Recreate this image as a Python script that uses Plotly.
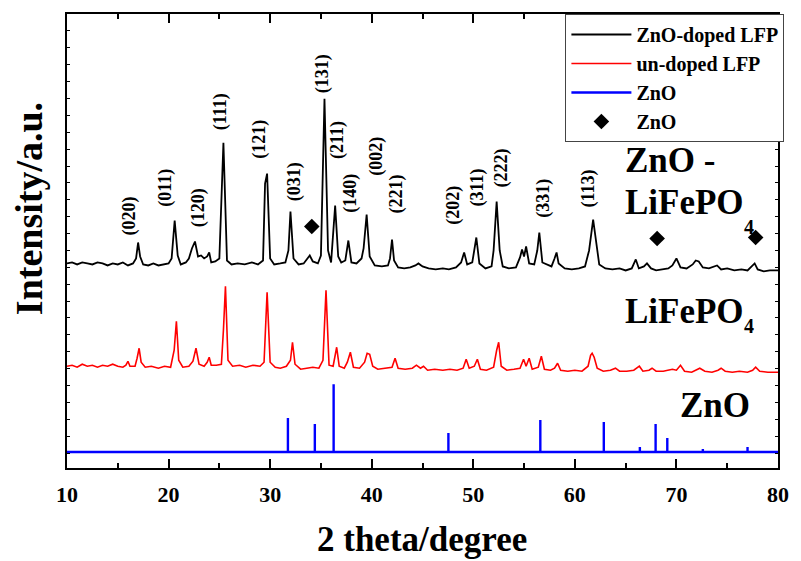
import plotly.graph_objects as go

# ---------------- data (2theta in degrees, intensity in a.u., stacked) ----------------
zno_lfp_2theta = [10.0, 10.5, 11.0, 11.5, 12.0, 12.5, 13.0, 13.5, 14.0, 14.5, 15.0, 15.5, 16.0, 16.5,
                  16.8, 17.0, 17.2, 17.5, 18.0, 18.5, 19.0, 19.5, 20.0, 20.3, 20.6, 20.9, 21.2, 21.7,
                  22.0, 22.3, 22.6, 22.9, 23.2, 23.5, 23.8, 24.0, 24.2, 24.6, 25.0, 25.4, 25.75, 26.2,
                  26.8, 27.5, 28.2, 28.8, 29.3, 29.5, 29.7, 30.0, 30.4, 31.0, 31.5, 31.8, 32.0, 32.3,
                  32.8, 33.3, 33.7, 33.9, 34.2, 34.7, 35.0, 35.35, 35.7, 36.0, 36.4, 36.7, 37.0, 37.4,
                  37.7, 38.0, 38.5, 39.0, 39.2, 39.5, 39.8, 40.3, 41.0, 41.6, 41.8, 42.0, 42.2, 42.6,
                  43.2, 43.8, 44.3, 44.6, 45.0, 45.6, 46.3, 47.0, 47.6, 48.3, 48.8, 49.1, 49.4, 49.9,
                  50.3, 50.6, 51.2, 51.8, 52.0, 52.3, 52.6, 52.9, 53.5, 54.2, 54.6, 54.8, 55.0, 55.2,
                  55.5, 56.0, 56.3, 56.5, 56.8, 57.3, 57.7, 58.0, 58.2, 58.4, 59.0, 59.7, 60.4, 61.0,
                  61.4, 61.8, 62.1, 62.4, 63.0, 63.7, 64.4, 65.0, 65.6, 66.0, 66.3, 66.8, 67.1, 67.5,
                  68.0, 68.6, 69.2, 69.6, 70.0, 70.4, 71.0, 71.6, 71.9, 72.2, 72.6, 73.2, 73.8, 74.0,
                  74.4, 75.0, 75.7, 76.4, 77.0, 77.4, 77.7, 78.0, 78.6, 79.2, 80.0]
zno_lfp_int = [205, 206, 204, 206, 205, 204, 206, 205, 203, 205, 204, 206, 203, 205,
               210, 226, 212, 204, 203, 205, 203, 204, 205, 210, 248, 213, 204, 206,
               210, 220, 227, 212, 213, 210, 212, 216, 206, 207, 210, 326, 208, 204,
               205, 204, 206, 204, 208, 285, 295, 210, 204, 205, 206, 218, 257, 210,
               204, 205, 210, 213, 207, 205, 213, 370, 218, 206, 263, 212, 206, 208,
               228, 206, 205, 210, 220, 254, 212, 203, 202, 203, 210, 229, 208, 201,
               200, 201, 203, 205, 202, 200, 199, 200, 199, 201, 206, 216, 204, 206,
               231, 205, 200, 202, 218, 267, 218, 202, 200, 201, 211, 219, 212, 222,
               205, 204, 218, 236, 206, 204, 202, 210, 216, 205, 200, 199, 200, 202,
               218, 249, 228, 204, 200, 199, 200, 198, 200, 209, 200, 202, 205, 200,
               198, 199, 200, 203, 210, 201, 200, 204, 208, 207, 201, 200, 202, 203,
               199, 200, 198, 199, 198, 202, 205, 199, 197, 198, 198]

lfp_2theta = [10.0, 10.5, 11.0, 11.5, 12.0, 12.5, 13.0, 13.5, 14.0, 14.5, 15.0, 15.5, 15.8, 16.0,
              16.2, 16.7, 16.9, 17.1, 17.3, 17.7, 18.3, 19.0, 19.6, 20.2, 20.55, 20.77, 21.0, 21.4,
              22.0, 22.4, 22.7, 23.0, 23.5, 23.8, 24.0, 24.2, 24.7, 25.2, 25.4, 25.6, 25.85, 26.3,
              27.0, 27.6, 28.3, 29.0, 29.4, 29.7, 30.0, 30.5, 31.0, 31.6, 32.0, 32.2, 32.45, 33.0,
              33.6, 34.2, 34.8, 35.2, 35.5, 35.8, 36.2, 36.55, 36.8, 37.3, 37.6, 37.9, 38.2, 38.8,
              39.3, 39.55, 39.8, 40.1, 40.6, 41.3, 42.0, 42.3, 42.6, 43.3, 44.0, 44.4, 44.8, 45.1,
              45.5, 46.2, 47.0, 47.7, 48.4, 49.0, 49.3, 49.6, 50.1, 50.4, 50.7, 51.3, 52.0, 52.3,
              52.5, 52.75, 53.3, 54.0, 54.6, 54.95, 55.2, 55.5, 55.8, 56.4, 56.7, 57.0, 57.6, 58.0,
              58.3, 58.6, 59.3, 60.0, 60.7, 61.3, 61.55, 61.7, 61.9, 62.2, 62.8, 63.5, 64.0, 64.4,
              65.1, 65.8, 66.35, 66.7, 67.3, 67.6, 68.0, 68.7, 69.2, 69.6, 70.0, 70.4, 70.8, 71.5,
              72.3, 72.8, 73.5, 74.1, 74.4, 74.8, 75.5, 76.2, 77.0, 77.5, 77.8, 78.2, 79.0, 80.0]
lfp_int = [102, 103, 101, 104, 102, 103, 101, 103, 102, 104, 102, 101, 103, 107,
           102, 102, 110, 120, 106, 101, 102, 100, 102, 101, 118, 147, 108, 101,
           102, 107, 120, 104, 102, 106, 111, 103, 103, 104, 138, 182, 108, 102,
           103, 101, 103, 102, 106, 176, 106, 101, 100, 102, 108, 126, 104, 99,
           100, 101, 100, 108, 178, 103, 102, 121, 102, 100, 106, 116, 101, 100,
           106, 115, 114, 102, 99, 100, 101, 110, 100, 99, 100, 103, 100, 102,
           98, 99, 98, 99, 98, 100, 109, 100, 102, 109, 99, 98, 101, 118,
           126, 102, 98, 99, 100, 109, 102, 110, 99, 101, 112, 99, 98, 100,
           105, 98, 97, 98, 97, 102, 113, 115, 111, 100, 97, 98, 100, 97,
           97, 98, 102, 97, 98, 100, 97, 97, 98, 99, 98, 103, 97, 96,
           100, 97, 96, 98, 100, 97, 96, 97, 96, 98, 101, 97, 96, 96]

# ZnO reference (standard card) stick pattern
zno_ref_2theta = [31.75, 34.4, 36.25, 47.55, 56.6, 62.85, 66.4, 67.95, 69.1, 72.6, 77.0]
zno_ref_int = [50, 44, 84, 35, 48, 46, 21, 44, 30, 19, 21]
zno_ref_base = 16
range_2theta = [10, 80]

# ZnO peaks marked in the doped sample
zno_mark_2theta = [34.1, 68.1, 77.8]
zno_mark_int = [242, 230, 231]

# Miller index labels (2theta position, label height)
hkl_labels = ["(020)", "(011)", "(120)", "(111)", "(121)", "(031)", "(131)", "(211)",
              "(140)", "(002)", "(221)", "(202)", "(311)", "(222)", "(331)", "(113)"]
hkl_2theta = [16.2, 19.75, 22.97, 25.11, 29.01, 32.42, 35.15, 36.62,
              37.88, 40.52, 42.47, 48.02, 50.46, 52.8, 56.89, 61.38]
hkl_int = [253, 281, 261, 357, 329, 287, 395, 329,
           275, 312, 275, 263, 281, 301, 270, 280]

x_ticks = [10, 20, 30, 40, 50, 60, 70, 80]

# ---------------- build stick path for ZnO reference ----------------
stick_x = [range_2theta[0]]
stick_y = [zno_ref_base]
for p, h in zip(zno_ref_2theta, zno_ref_int):
    stick_x += [p, p, p]
    stick_y += [zno_ref_base, h, zno_ref_base]
stick_x.append(range_2theta[1])
stick_y.append(zno_ref_base)

FONT = "Liberation Serif"

fig = go.Figure()
fig.add_trace(go.Scatter(x=zno_lfp_2theta, y=zno_lfp_int, mode="lines",
                         line=dict(color="black", width=1.8), name="ZnO-doped LFP",
                         legendgroup="a"))
fig.add_trace(go.Scatter(x=lfp_2theta, y=lfp_int, mode="lines",
                         line=dict(color="#ff0000", width=1.6), name="un-doped LFP",
                         legendgroup="b"))
fig.add_trace(go.Scatter(x=stick_x, y=stick_y, mode="lines",
                         line=dict(color="#0000ff", width=2.4), name="ZnO",
                         legendgroup="c"))
fig.add_trace(go.Scatter(x=zno_mark_2theta, y=zno_mark_int, mode="markers",
                         marker=dict(symbol="diamond", size=12, color="black"), name="ZnO",
                         legendgroup="d"))

annotations = []
for t, x, y in zip(hkl_labels, hkl_2theta, hkl_int):
    annotations.append(dict(x=x, y=y, xref="x", yref="y", text=t, textangle=-90,
                            showarrow=False, xanchor="center", yanchor="middle",
                            font=dict(family=FONT, size=18, color="black", weight="bold")))

big = dict(family=FONT, size=35, color="black", weight="bold")
sub = dict(family=FONT, size=20, color="black", weight="bold")
annotations += [
    dict(x=64.7, y=308, xref="x", yref="y", text="ZnO -", showarrow=False,
         xanchor="left", yanchor="middle", font=big),
    dict(x=64.7, y=266, xref="x", yref="y", text="LiFePO", showarrow=False,
         xanchor="left", yanchor="middle", font=big),
    dict(x=77.1, y=242, xref="x", yref="y", text="4", showarrow=False,
         xanchor="center", yanchor="middle", font=sub),
    dict(x=64.7, y=157, xref="x", yref="y", text="LiFePO", showarrow=False,
         xanchor="left", yanchor="middle", font=big),
    dict(x=77.1, y=142, xref="x", yref="y", text="4", showarrow=False,
         xanchor="center", yanchor="middle", font=sub),
    dict(x=77.4, y=63, xref="x", yref="y", text="ZnO", showarrow=False,
         xanchor="right", yanchor="middle", font=big),
    dict(x=0.4986, y=-0.158, xref="paper", yref="paper", text="2 theta/degree",
         showarrow=False, xanchor="center", yanchor="middle",
         font=dict(family=FONT, size=35, color="black", weight="bold")),
    dict(x=-0.0543, y=0.571, xref="paper", yref="paper", text="Intensity/a.u.",
         showarrow=False, xanchor="center", yanchor="middle", textangle=-90,
         font=dict(family=FONT, size=38, color="black", weight="bold")),
]

fig.update_layout(
    width=801, height=561,
    margin=dict(l=67, r=16, t=13, b=93),
    paper_bgcolor="white", plot_bgcolor="white",
    showlegend=True,
    legend=dict(x=1.009, y=1.0, xanchor="right", yanchor="top",
                bgcolor="white", bordercolor="#444444", borderwidth=1,
                traceorder="grouped", tracegroupgap=0, itemwidth=60,
                font=dict(family=FONT, size=20, color="black", weight="bold")),
    annotations=annotations,
)
fig.update_xaxes(range=range_2theta, tickmode="array", tickvals=x_ticks,
                 ticktext=[str(v) for v in x_ticks],
                 ticks="inside", ticklen=9, tickwidth=2, tickcolor="black",
                 ticklabelstandoff=6,
                 minor=dict(dtick=5, tick0=0, ticks="inside", ticklen=5, tickwidth=2,
                            tickcolor="black"),
                 showline=True, linewidth=2, linecolor="black", mirror="allticks",
                 showgrid=False, zeroline=False,
                 tickfont=dict(family=FONT, size=22, color="black", weight="bold"))
fig.update_yaxes(range=[0, 455], tick0=15, dtick=16.92, ticks="inside", ticklen=3,
                 tickwidth=1, tickcolor="black", showticklabels=False,
                 showline=True, linewidth=2, linecolor="black", mirror="allticks",
                 showgrid=False, zeroline=False)

fig.write_html("out.html")
